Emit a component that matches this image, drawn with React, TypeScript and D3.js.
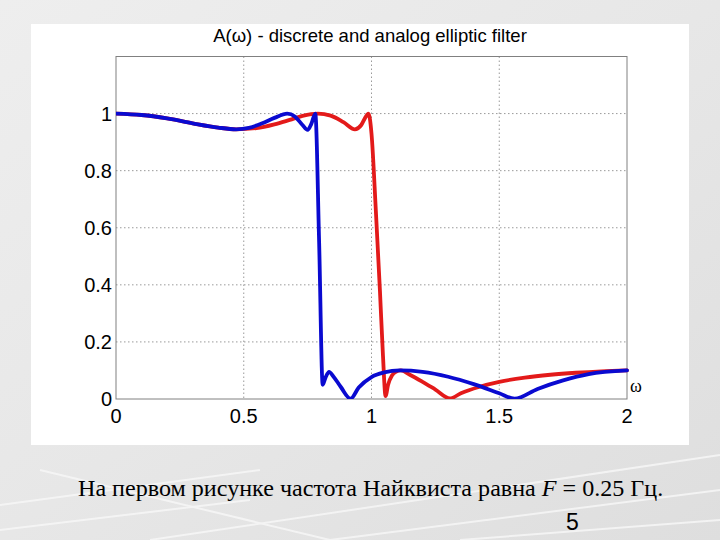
import React from "react";
import * as d3 from "d3";

const W = 720;
const H = 540;

const titleText = "A(ω) - discrete and analog elliptic filter";
const xTicks = [0, 0.5, 1, 1.5, 2];
const yTicks = [0, 0.2, 0.4, 0.6, 0.8, 1];
const xTickLabels = ["0", "0.5", "1", "1.5", "2"];
const yTickLabels = ["0", "0.2", "0.4", "0.6", "0.8", "1"];

// analog (red) response: [omega, A]
const redSeries: [number, number][] = [
  [0, 1], [0.1, 0.995], [0.2, 0.983], [0.3, 0.966], [0.4, 0.951], [0.47, 0.945],
  [0.55, 0.949], [0.62, 0.962], [0.68, 0.978], [0.73, 0.992], [0.79, 1.0],
  [0.84, 0.993], [0.89, 0.97], [0.935, 0.945], [0.96, 0.96], [0.975, 0.985], [0.988, 1.0],
  [1.0, 0.93], [1.017, 0.66], [1.033, 0.38], [1.045, 0.15], [1.055, 0.01],
  [1.065, 0.05], [1.08, 0.082], [1.095, 0.095], [1.115, 0.1], [1.15, 0.085],
  [1.2, 0.06], [1.25, 0.033], [1.307, 0.002], [1.35, 0.02], [1.42, 0.042],
  [1.5, 0.06], [1.6, 0.075], [1.7, 0.085], [1.8, 0.092], [1.9, 0.097], [2.0, 0.1],
];

// discrete (blue) response: [omega, A]
const blueSeries: [number, number][] = [
  [0, 1], [0.1, 0.995], [0.2, 0.983], [0.3, 0.966], [0.4, 0.951], [0.47, 0.945],
  [0.52, 0.95], [0.57, 0.965], [0.62, 0.985], [0.67, 1.0], [0.7, 0.99],
  [0.73, 0.96], [0.75, 0.943], [0.765, 0.965], [0.78, 1.0],
  [0.795, 0.55], [0.809, 0.05], [0.82, 0.075], [0.834, 0.095], [0.85, 0.08],
  [0.88, 0.042], [0.918, 0.001], [0.95, 0.04], [1.0, 0.077], [1.05, 0.093],
  [1.11, 0.1], [1.2, 0.095], [1.3, 0.078], [1.4, 0.052], [1.5, 0.02],
  [1.56, 0.001], [1.65, 0.035], [1.75, 0.065], [1.85, 0.087], [2.0, 0.1],
];

const captionParts = ["На первом рисунке частота Найквиста равна ", "F", " = 0.25 Гц."];
const pageNumber = "5";

export default function App() {
  const left = 116, right = 627, top = 56.5, bottom = 399;
  const x = d3.scaleLinear().domain([0, 2]).range([left, right]);
  const y = d3.scaleLinear().domain([0, 1.2]).range([bottom, top]);
  const line = d3
    .line<[number, number]>()
    .x((d) => x(d[0]))
    .y((d) => y(d[1]))
    .curve(d3.curveMonotoneX);

  const font = "Liberation Sans, Arial, sans-serif";
  const serif = "Liberation Serif, Times New Roman, serif";

  return (
    <svg
      width={W}
      height={H}
      style={{ position: "absolute", left: 0, top: 0, display: "block" }}
    >
      <defs>
        <linearGradient id="bg" x1="0" y1="0" x2="1" y2="1">
          <stop offset="0" stopColor="#eeeeee" />
          <stop offset="0.5" stopColor="#e7e7e7" />
          <stop offset="1" stopColor="#dedede" />
        </linearGradient>
        <clipPath id="plotclip">
          <rect x={left} y={top - 4} width={right - left + 4} height={bottom - top + 4} />
        </clipPath>
      </defs>
      <rect x={0} y={0} width={W} height={H} fill="url(#bg)" />
      {/* faint decorative streaks */}
      <g stroke="#f8f8f8" strokeWidth={2} fill="none" opacity={0.8}>
        <line x1={0} y1={505} x2={260} y2={470} />
        <line x1={40} y1={470} x2={330} y2={540} />
        <line x1={150} y1={540} x2={720} y2={455} />
        <line x1={330} y1={540} x2={720} y2={490} />
        <line x1={0} y1={530} x2={250} y2={500} />
        <line x1={460} y1={540} x2={720} y2={520} />
      </g>
      <rect x={31} y={24} width={658} height={421} fill="#ffffff" />

      <text
        x={370}
        y={42}
        textAnchor="middle"
        fontFamily={font}
        fontSize={18.5}
        fill="#000"
      >
        {titleText}
      </text>

      {/* grid */}
      <g stroke="#9a9a9a" strokeWidth={1} strokeDasharray="1.5,2.5">
        {xTicks.slice(1, -1).map((t) => (
          <line key={"gx" + t} x1={x(t)} x2={x(t)} y1={top} y2={bottom} />
        ))}
        {yTicks.slice(1).map((t) => (
          <line key={"gy" + t} x1={left} x2={right} y1={y(t)} y2={y(t)} />
        ))}
      </g>

      {/* axes box */}
      <rect
        x={left}
        y={top}
        width={right - left}
        height={bottom - top}
        fill="none"
        stroke="#808080"
        strokeWidth={1}
      />

      {/* tick labels */}
      <g fontFamily={font} fontSize={20} fill="#000">
        {yTicks.map((t, i) => (
          <text key={"yl" + t} x={left - 4} y={y(t) + 7} textAnchor="end">
            {yTickLabels[i]}
          </text>
        ))}
        {xTicks.map((t, i) => (
          <text key={"xl" + t} x={x(t)} y={bottom + 24} textAnchor="middle">
            {xTickLabels[i]}
          </text>
        ))}
      </g>
      <text x={right + 3} y={bottom - 7} fontFamily={serif} fontSize={18} fill="#000">
        ω
      </text>

      {/* curves */}
      <g clipPath="url(#plotclip)" fill="none" strokeWidth={3.8} strokeLinejoin="round" strokeLinecap="round">
        <path d={line(redSeries) || ""} stroke="#e31a1a" />
        <path d={line(blueSeries) || ""} stroke="#0a0ad0" />
      </g>

      {/* caption */}
      <text x={78} y={496} fontFamily={serif} fontSize={24.1} fill="#000">
        {captionParts[0]}
        <tspan fontStyle="italic">{captionParts[1]}</tspan>
        {captionParts[2]}
      </text>
      <text x={566} y={530} fontFamily={font} fontSize={23} fill="#000">
        {pageNumber}
      </text>
    </svg>
  );
}
